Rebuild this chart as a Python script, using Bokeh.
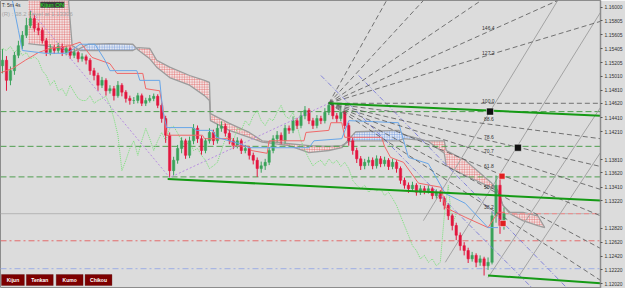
import numpy as np
from bokeh.plotting import figure
from bokeh.models import (Range1d, FixedTicker, Label, BoxAnnotation,
                          ColumnDataSource, NumeralTickFormatter)
from bokeh.embed import file_html
from bokeh.resources import INLINE
from bokeh.core.properties import value

# ---------------- price data (EURUSD-like, bars) ----------------
first_open = 1.1516
close = [
    1.1524, 1.1495, 1.1509, 1.1531, 1.1545, 1.1560, 1.1574, 1.1584, 1.1570, 1.1567,
    1.1552, 1.1535, 1.1541, 1.1538, 1.1544, 1.1535, 1.1541, 1.1531, 1.1535, 1.1526,
    1.1529, 1.1524, 1.1509, 1.1502, 1.1488, 1.1495, 1.1480, 1.1483, 1.1473, 1.1488,
    1.1478, 1.1469, 1.1466, 1.1466, 1.1473, 1.1462, 1.1466, 1.1469, 1.1472, 1.1459,
    1.1440, 1.1416, 1.1365, 1.1380, 1.1397, 1.1408, 1.1387, 1.1408, 1.1426, 1.1411,
    1.1394, 1.1408, 1.1420, 1.1408, 1.1426, 1.1429, 1.1419, 1.1408, 1.1401, 1.1408,
    1.1394, 1.1397, 1.1387, 1.1380, 1.1368, 1.1372, 1.1377, 1.1394, 1.1411, 1.1416,
    1.1408, 1.1426, 1.1423, 1.1437, 1.1430, 1.1444, 1.1452, 1.1437, 1.1430, 1.1440,
    1.1437, 1.1449, 1.1459, 1.1444, 1.1440, 1.1449, 1.1430, 1.1408, 1.1394, 1.1382,
    1.1372, 1.1377, 1.1380, 1.1372, 1.1382, 1.1375, 1.1380, 1.1371, 1.1377, 1.1368,
    1.1351, 1.1344, 1.1339, 1.1344, 1.1334, 1.1339, 1.1336, 1.1339, 1.1329, 1.1334,
    1.1325, 1.1315, 1.1300, 1.1286, 1.1272, 1.1257, 1.1250, 1.1238, 1.1243, 1.1233,
    1.1238, 1.1228, 1.1233, 1.1300, 1.1344, 1.1286, 1.1303]
high = [
    1.1540, 1.1530, 1.1515, 1.1536, 1.1552, 1.1566, 1.1585, 1.1595, 1.1590, 1.1578,
    1.1571, 1.1556, 1.1547, 1.1546, 1.1549, 1.1548, 1.1545, 1.1544, 1.1540, 1.1538,
    1.1534, 1.1532, 1.1527, 1.1513, 1.1506, 1.1500, 1.1498, 1.1488, 1.1487, 1.1494,
    1.1491, 1.1481, 1.1473, 1.1471, 1.1477, 1.1476, 1.1470, 1.1474, 1.1476, 1.1475,
    1.1462, 1.1444, 1.1420, 1.1385, 1.1402, 1.1413, 1.1411, 1.1414, 1.1432, 1.1430,
    1.1415, 1.1412, 1.1426, 1.1424, 1.1432, 1.1436, 1.1433, 1.1423, 1.1412, 1.1413,
    1.1411, 1.1402, 1.1400, 1.1391, 1.1384, 1.1378, 1.1382, 1.1399, 1.1416, 1.1422,
    1.1420, 1.1431, 1.1430, 1.1443, 1.1441, 1.1450, 1.1458, 1.1455, 1.1441, 1.1445,
    1.1444, 1.1455, 1.1464, 1.1462, 1.1448, 1.1458, 1.1452, 1.1434, 1.1412, 1.1398,
    1.1386, 1.1382, 1.1385, 1.1384, 1.1387, 1.1386, 1.1385, 1.1383, 1.1382, 1.1380,
    1.1371, 1.1355, 1.1348, 1.1349, 1.1347, 1.1344, 1.1343, 1.1344, 1.1342, 1.1338,
    1.1337, 1.1328, 1.1318, 1.1303, 1.1290, 1.1276, 1.1262, 1.1254, 1.1248, 1.1246,
    1.1243, 1.1241, 1.1240, 1.1306, 1.1358, 1.1358, 1.1312]
low = [
    1.1505, 1.1480, 1.1488, 1.1503, 1.1527, 1.1540, 1.1556, 1.1570, 1.1565, 1.1560,
    1.1548, 1.1530, 1.1531, 1.1533, 1.1534, 1.1530, 1.1531, 1.1526, 1.1527, 1.1521,
    1.1522, 1.1518, 1.1503, 1.1495, 1.1480, 1.1484, 1.1473, 1.1476, 1.1466, 1.1470,
    1.1472, 1.1463, 1.1460, 1.1461, 1.1462, 1.1458, 1.1458, 1.1463, 1.1465, 1.1455,
    1.1434, 1.1405, 1.1355, 1.1358, 1.1375, 1.1390, 1.1382, 1.1383, 1.1403, 1.1405,
    1.1388, 1.1390, 1.1404, 1.1402, 1.1404, 1.1421, 1.1414, 1.1403, 1.1396, 1.1397,
    1.1389, 1.1390, 1.1381, 1.1374, 1.1356, 1.1362, 1.1366, 1.1373, 1.1390, 1.1406,
    1.1403, 1.1404, 1.1418, 1.1419, 1.1425, 1.1426, 1.1439, 1.1432, 1.1425, 1.1426,
    1.1432, 1.1433, 1.1445, 1.1439, 1.1434, 1.1436, 1.1425, 1.1401, 1.1388, 1.1376,
    1.1366, 1.1367, 1.1372, 1.1367, 1.1368, 1.1370, 1.1371, 1.1366, 1.1367, 1.1362,
    1.1346, 1.1339, 1.1333, 1.1335, 1.1329, 1.1330, 1.1331, 1.1332, 1.1324, 1.1325,
    1.1320, 1.1309, 1.1294, 1.1279, 1.1265, 1.1250, 1.1243, 1.1232, 1.1234, 1.1226,
    1.1228, 1.1214, 1.1222, 1.1230, 1.1290, 1.1274, 1.1280]
chikou_shift = 12

# ---------------- Ichimoku lines ----------------
tenkan_bar = [-0.5, 2.5, 5.75, 9, 12, 17, 19.5, 22.5, 27, 28.75, 35.25, 36, 39.5, 40.25,
              41.25, 50.25, 50.75, 57, 57.75, 62, 62.5, 66.5, 67, 75.75, 76.25, 82, 82.5,
              85.25, 86, 95.25, 96, 97.5, 100.75, 104.5, 110.25, 111.25, 116.25, 122,
              124.5, 126.25]
tenkan = [1.1506, 1.1512, 1.1524, 1.1535, 1.1541, 1.1545, 1.1550, 1.1528, 1.1519, 1.1505,
          1.1505, 1.1483, 1.1480, 1.1456, 1.1416, 1.1416, 1.1411, 1.1411, 1.1401, 1.1400,
          1.1394, 1.1390, 1.1408, 1.1408, 1.1420, 1.1423, 1.1434, 1.1434, 1.1413, 1.1413,
          1.1400, 1.1384, 1.1377, 1.1347, 1.1341, 1.1312, 1.1298, 1.1283, 1.1305, 1.1305]
kijun_bar = [2.5, 4, 5, 10.75, 16.25, 19.5, 23.25, 25.75, 27, 33.75, 34.5, 39.5, 40.25,
             41.25, 47.75, 48.75, 52.75, 53.75, 59.5, 62, 77, 78.25, 85.25, 87, 99.5, 102,
             107, 111.25, 116.25, 122, 124.5]
kijun = [1.1610, 1.1567, 1.1538, 1.1534, 1.1534, 1.1547, 1.1547, 1.1524, 1.1509, 1.1509,
         1.1495, 1.1495, 1.1452, 1.1427, 1.1427, 1.1423, 1.1423, 1.1413, 1.1404, 1.1398,
         1.1398, 1.1408, 1.1411, 1.1437, 1.1434, 1.1384, 1.1375, 1.1332, 1.1318, 1.1283,
         1.1283]
kumo_bar = [6.5, 10.75, 16.5, 17.5, 19.5, 21.5, 27, 32.75, 34, 37, 38.75, 42, 47, 50.75,
            52, 52.25, 57, 62, 65.25, 72, 77, 82, 85.25, 87, 88.75, 99.5, 100.75, 107,
            111, 111.5, 116.25, 122.75, 124.5, 125.75, 127.5, 130.75, 134.5, 136.25]
senkou_a = [1.1548, 1.1545, 1.1538, 1.1535, 1.1541, 1.1547, 1.1548, 1.1547, 1.1539, 1.1526,
            1.1514, 1.1499, 1.1488, 1.1473, 1.1466, 1.1437, 1.1423, 1.1413, 1.1406, 1.1401,
            1.1391, 1.1394, 1.1398, 1.1410, 1.1421, 1.1423, 1.1417, 1.1407, 1.1390, 1.1372,
            1.1358, 1.1341, 1.1334, 1.1315, 1.1303, 1.1293, 1.1286, 1.1283]
senkou_b = [1.1624, 1.1624, 1.1617, 1.1545, 1.1538, 1.1538, 1.1538, 1.1538, 1.1542, 1.1541,
            1.1524, 1.1514, 1.1502, 1.1495, 1.1492, 1.1447, 1.1433, 1.1420, 1.1408, 1.1404,
            1.1401, 1.1400, 1.1401, 1.1407, 1.1408, 1.1408, 1.1411, 1.1408, 1.1408, 1.1394,
            1.1380, 1.1348, 1.1336, 1.1315, 1.1305, 1.1305, 1.1300, 1.1283]

# ---------------- drawings ----------------
level_green = [1.1450, 1.1400, 1.1356]
level_price_line = 1.1303
level_red_dashdot = 1.1264
level_blue_dashdot = 1.1224

fan_origin_bar, fan_origin_price = 82, 1.1462
fan_end_bar = [96.5, 105.75, 120.25, 139.5, 150.25, 150.25, 150.25, 150.25, 150.25,
               150.25, 150.25, 150.25]
fan_end_price = [1.1610, 1.1610, 1.1610, 1.1610, 1.1580, 1.1462, 1.1411, 1.1371, 1.1338,
                 1.1300, 1.1253, 1.1207]
fan_labels = ["146.4", "127.2", "100.0", "88.6", "78.6", "70.7", "61.8", "50.0", "38.2"]
fan_label_bar = [120.5, 120.5, 120.5, 121, 121, 121, 121, 121, 121]
fan_label_price = [1.1570, 1.1535, 1.1466, 1.1439, 1.1413, 1.1393, 1.1371, 1.1342, 1.1312]

grid_x0 = [111.25, 105.75, 122, 129.5]
grid_p0 = [1.1233, 1.1293, 1.1211, 1.1211]
grid_x1 = [150.25, 139.5, 150.25, 150.25]
grid_p1 = [1.1593, 1.1610, 1.1456, 1.1391]

trend_x0 = [82, 41.5, 122]
trend_p0 = [1.1462, 1.1353, 1.1214]
trend_x1 = [150.25, 150.25, 150.25]
trend_p1 = [1.1444, 1.1322, 1.1203]

zigzag_bar = [7, 42, 82]
zigzag_price = [1.1596, 1.1355, 1.1462]

chan_x0 = [80, 89.5]
chan_p0 = [1.1502, 1.1502]
chan_x1 = [133.25, 142]
chan_p1 = [1.1195, 1.1195]

black_mark_bar = [122.5, 129.5]
black_mark_price = [1.1450, 1.1398]
red_mark_bar = [125.5, 125.75]
red_mark_price = [1.1357, 1.1289]

tick_values = [1.16000, 1.15805, 1.15605, 1.15405, 1.15205, 1.15010, 1.14810, 1.14620,
               1.14410, 1.14210, 1.13810, 1.13620, 1.13410, 1.13220, 1.12820, 1.12620,
               1.12420, 1.12220, 1.12020]
box_labels = ["1.14500", "1.14000", "1.13560", "1.13030"]
box_prices = [1.1450, 1.1400, 1.1356, 1.1303]
box_colors = ["#0a8a0a", "#0a8a0a", "#0a8a0a", "#000000"]

buttons = ["Kijun", "Tenkan", "Kumo", "Chikou"]
button_left = [-0.25, 6, 13.5, 20.75]
button_right = [5.5, 12.75, 20.25, 27.5]

# ---------------- figure ----------------
BG = "#dcdcdc"
X_END = 150.25
p = figure(width=625, height=288, x_range=Range1d(-0.5, X_END),
           y_range=Range1d(1.11953, 1.1610), output_backend="svg",
           toolbar_location=None, x_axis_location=None, y_axis_location="right",
           background_fill_color=BG, border_fill_color=BG, min_border=0)
p.xgrid.visible = False
p.ygrid.visible = False
p.outline_line_color = "#8c8c8c"

ax = p.yaxis[0]
ax.ticker = FixedTicker(ticks=tick_values)
ax.formatter = NumeralTickFormatter(format="0.00000")
ax.major_label_text_font = "Liberation Sans"
ax.major_label_text_font_size = "5px"
ax.major_label_text_color = "#333333"
ax.major_tick_out = 2
ax.major_tick_in = 0
ax.minor_tick_line_color = None
ax.major_tick_line_color = "#555555"
ax.axis_line_color = "#8c8c8c"
ax.axis_line_width = 1.5
ax.major_label_standoff = 2

# ---- kumo ----
a = np.array(senkou_a)
b = np.array(senkou_b)
top = np.maximum(a, b)
p.varea(x=kumo_bar, y1=a, y2=top, fill_color="#f2e2e2", hatch_pattern="+",
        hatch_color="#e06a6a", hatch_scale=2.5, hatch_weight=0.5)
p.varea(x=kumo_bar, y1=b, y2=top, fill_color="#e2e8f3", hatch_pattern="+",
        hatch_color="#6a92dc", hatch_scale=2.5, hatch_weight=0.5)
p.line(kumo_bar, senkou_a, color="#9c9c9c", line_width=1.3)
p.line(kumo_bar, senkou_b, color="#9c9c9c", line_width=1.3)

# ---- horizontal levels ----
for lv in level_green:
    p.line([-0.5, X_END], [lv, lv], color="#4f9e4f", line_width=1, line_dash="6 3")
p.line([-0.5, X_END], [level_price_line] * 2, color="#b4b4b4", line_width=1)
p.line([126, X_END], [level_price_line] * 2, color="#f08a8a", line_width=1, line_dash="5 3")
p.line([-0.5, X_END], [level_red_dashdot] * 2, color="#e36b6b", line_width=1,
       line_dash="6 3 2 3")
p.line([-0.5, X_END], [level_blue_dashdot] * 2, color="#a9b6e3", line_width=1.2,
       line_dash="6 3 2 3")

# ---- gann grid (solid gray) ----
p.segment(x0=grid_x0, y0=grid_p0, x1=grid_x1, y1=grid_p1, color="#a3a3a3", line_width=1)

# ---- chikou ----
n = len(close)
bars = list(range(n))
ch_x = [i - chikou_shift for i in bars]
p.line(ch_x, close, color="#78e078", line_width=1, line_dash="1 1")

# ---- candles ----
opens = [first_open] + close[:-1]
up = [c >= o for o, c in zip(opens, close)]
colors = ["#3aa35a" if u else "#e3173f" for u in up]
src = ColumnDataSource(dict(x=bars, high=high, low=low,
                            top=[max(o, c) for o, c in zip(opens, close)],
                            bottom=[min(o, c) for o, c in zip(opens, close)],
                            color=colors))
p.segment(x0="x", y0="low", x1="x", y1="high", color="color", line_width=1, source=src)
p.vbar(x="x", width=0.6, top="top", bottom="bottom", fill_color="color",
       line_color="color", line_width=0.5, source=src)

# ---- tenkan / kijun ----
p.line(tenkan_bar, tenkan, color="#f06868", line_width=1)
p.line(kijun_bar, kijun, color="#68a6e8", line_width=1)

# ---- zigzag & channels ----
p.line(zigzag_bar, zigzag_price, color="#b78ee0", line_width=1, line_dash="2 2")
p.segment(x0=chan_x0, y0=chan_p0, x1=chan_x1, y1=chan_p1, color="#7a7ad8",
          line_width=0.9, line_dash="5 2 1 2")

# ---- fib fan ----
p.segment(x0=[fan_origin_bar] * len(fan_end_bar), y0=[fan_origin_price] * len(fan_end_bar),
          x1=fan_end_bar, y1=fan_end_price, color="#555555", line_width=0.8,
          line_dash="5 3")
p.text(x=fan_label_bar, y=fan_label_price, text=fan_labels, text_font=value("Liberation Sans"),
       text_font_size="5px", text_color="#333333", text_baseline="middle")

# ---- trend lines ----
p.segment(x0=trend_x0, y0=trend_p0, x1=trend_x1, y1=trend_p1, color="#159a15", line_width=2)

# ---- markers ----
p.scatter(black_mark_bar, black_mark_price, marker="square", size=7, fill_color="#111111",
          line_color="#ffffff", line_width=0.5)
p.scatter(red_mark_bar, red_mark_price, marker="square", size=6, fill_color="#e02020",
          line_color="#ffffff", line_width=0.5)

# ---- axis boxed labels ----
for txt, pr, col in zip(box_labels, box_prices, box_colors):
    p.add_layout(Label(x=X_END + 0.3, y=pr, text=txt, text_font="Liberation Sans",
                       text_font_size="5px", text_color="#ffffff", text_baseline="middle",
                       background_fill_color=col, x_offset=0))

# ---- top-left info ----
p.add_layout(Label(x=-0.2, y=1.1603, text="T: 5m 4s", text_font="Liberation Sans",
                   text_font_size="5px", text_color="#333333", text_baseline="middle"))
p.add_layout(Label(x=-0.2, y=1.1590, text="(R) : 38.2 Level at 1.13306",
                   text_font="Liberation Sans", text_font_size="6px",
                   text_color="#a6a6a6", text_baseline="middle"))
p.add_layout(Label(x=9.5, y=1.1604, text="Kijun ON", text_font="Liberation Sans",
                   text_font_size="6px", text_color="#22ee22", text_baseline="middle",
                   background_fill_color="#3d3d3d"))

# ---- bottom buttons ----
for name, l, r in zip(buttons, button_left, button_right):
    p.add_layout(BoxAnnotation(left=l, right=r, bottom=1.11996, top=1.12154,
                               fill_color="#7d0000", fill_alpha=1, line_color="#4a0000",
                               line_width=1))
    p.add_layout(Label(x=(l + r) / 2, y=1.12075, text=name, text_font="Liberation Sans",
                       text_font_size="5px", text_font_style="bold", text_color="#ffffff",
                       text_align="center", text_baseline="middle"))

open("out.html", "w").write(file_html(p, INLINE))
